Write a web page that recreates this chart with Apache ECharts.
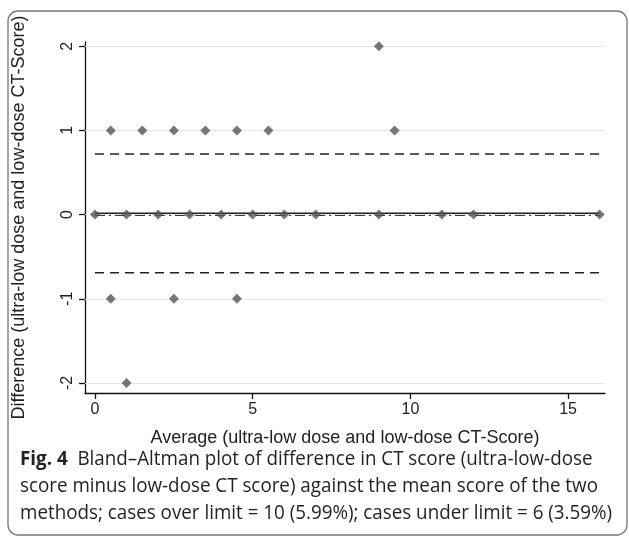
<!DOCTYPE html>
<html><head><meta charset="utf-8">
<script src="https://cdn.jsdelivr.net/npm/echarts@6/dist/echarts.min.js"></script>
<style>html,body{margin:0;padding:0;background:#fff}#c{width:629px;height:538px}</style>
</head><body><div id="c"></div>
<script>
const averages    = [0,1,2,3,4,5,6,7,9,11,12,16, 0.5,1.5,2.5,3.5,4.5,5.5,9.5, 9, 0.5,2.5,4.5, 1];
const differences = [0,0,0,0,0,0,0,0,0,0,0,0,   1,1,1,1,1,1,1,         2, -1,-1,-1,   -2];
const meanDiff = 0.015;
const refLine = -0.01;
const upperLimit = 0.72;
const lowerLimit = -0.69;
const lineSpan = [0, 16];
const xTicks = [0, 5, 10, 15];
const yTicks = [-2, -1, 0, 1, 2];

const pts = averages.map((a, i) => [a, differences[i]]);
function hline(y) { return lineSpan.map(x => [x, y]); }

const chart = echarts.init(document.getElementById('c'));
chart.setOption({
  animation: false,
  grid: { left: 85, right: 24, top: 42, bottom: 145 },
  xAxis: {
    type: 'value', min: -0.317, max: 16.17,
    axisLine: { show: true, onZero: false, lineStyle: { color: '#111', width: 1.3 } },
    axisTick: { show: true, length: 6, customValues: xTicks, lineStyle: { color: '#111', width: 1.3 } },
    axisLabel: { customValues: xTicks, color: '#222', fontSize: 16, fontFamily: 'Liberation Sans', margin: 9 },
    splitLine: { show: false },
    name: 'Average (ultra-low dose and low-dose CT-Score)',
    nameLocation: 'middle', nameGap: 36,
    nameTextStyle: { fontSize: 18, color: '#222', fontFamily: 'Liberation Sans' }
  },
  yAxis: {
    type: 'value', min: -2.119, max: 2.05,
    axisLine: { show: true, onZero: false, lineStyle: { color: '#111', width: 1.3 } },
    axisTick: { show: true, length: 6, customValues: yTicks, lineStyle: { color: '#111', width: 1.3 } },
    axisLabel: { customValues: yTicks, color: '#222', fontSize: 16, fontFamily: 'Liberation Sans', rotate: 90, margin: 9 },
    splitLine: { show: false },
    name: 'Difference (ultra-low dose and low-dose CT-Score)',
    nameLocation: 'middle', nameGap: 57,
    nameTextStyle: { fontSize: 18, color: '#222', fontFamily: 'Liberation Sans' }
  },
  series: [
    { type: 'line', data: [], silent: true,
      markLine: { symbol: 'none', silent: true, label: { show: false },
        lineStyle: { color: '#e6e6e6', width: 1, type: 'solid' },
        data: yTicks.map(v => ({ yAxis: v })) } },
    { type: 'line', data: hline(upperLimit), symbol: 'none', lineStyle: { color: '#222', width: 1.5, type: [9, 6] } },
    { type: 'line', data: hline(lowerLimit), symbol: 'none', lineStyle: { color: '#222', width: 1.5, type: [9, 6] } },
    { type: 'line', data: hline(refLine), symbol: 'none', lineStyle: { color: '#333', width: 1.3, type: [10, 4, 2, 4] } },
    { type: 'line', data: hline(meanDiff), symbol: 'none', lineStyle: { color: '#222', width: 1.6, type: 'solid' } },
    { type: 'scatter', data: pts, symbol: 'diamond', symbolSize: 10, itemStyle: { color: '#555' }, z: 5 }
  ],
  graphic: [
    { type: 'rect', shape: { x: 8, y: 11, width: 619, height: 524, r: 10 },
      style: { fill: 'none', stroke: '#777', lineWidth: 1.3 }, z: -1 },
    { type: 'group', left: 20, top: 449, children: [
      { type: 'text', x: 0, y: 0, scaleX: 0.94, style: {
        text: '{b|Fig. 4}  Bland–Altman plot of difference in CT score (ultra-low-dose',
        fontSize: 20, fill: '#231f20', fontFamily: 'Open Sans',
        rich: { b: { fontWeight: 'bold', fontSize: 20, fontFamily: 'Open Sans', fill: '#231f20' } } } },
      { type: 'text', x: 0, y: 27, scaleX: 0.94, style: {
        text: 'score minus low-dose CT score) against the mean score of the two',
        fontSize: 20, fill: '#231f20', fontFamily: 'Open Sans' } },
      { type: 'text', x: 0, y: 54, scaleX: 0.94, style: {
        text: 'methods; cases over limit = 10 (5.99%); cases under limit = 6 (3.59%)',
        fontSize: 20, fill: '#231f20', fontFamily: 'Open Sans' } }
    ] }
  ]
});
</script></body></html>
